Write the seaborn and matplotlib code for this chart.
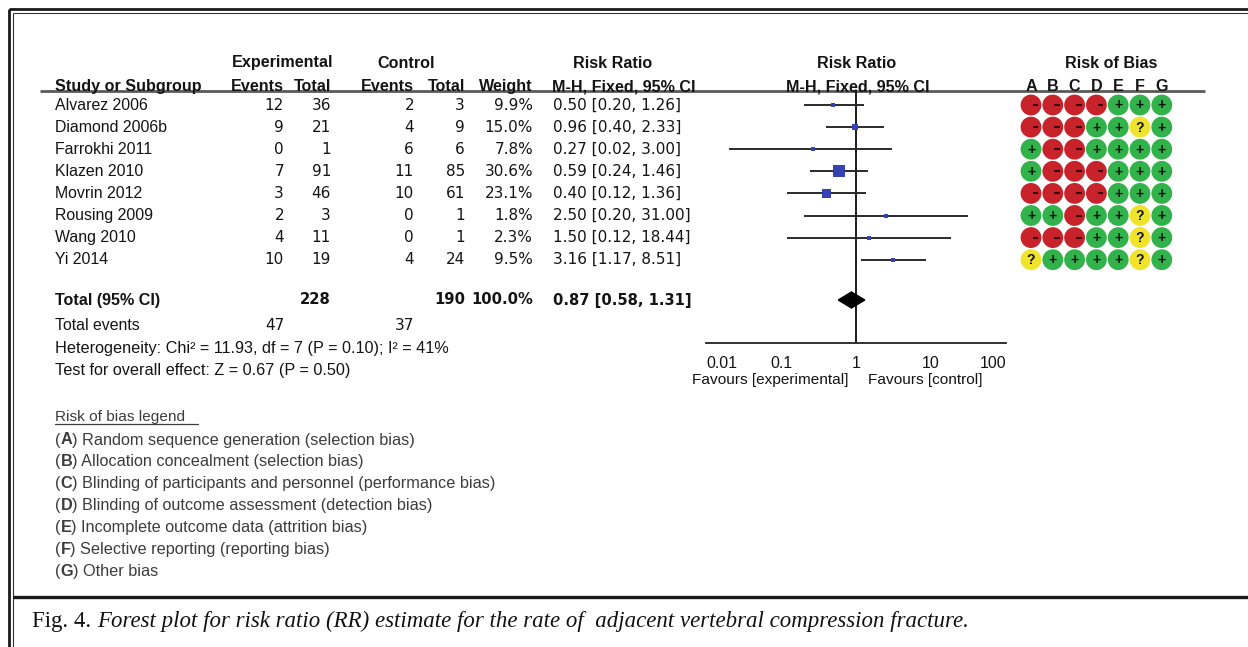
import matplotlib
matplotlib.use("Agg")
import matplotlib.pyplot as plt
import seaborn as sns
import pandas as pd

# ---------------- data ----------------
studies = ["Alvarez 2006", "Diamond 2006b", "Farrokhi 2011", "Klazen 2010",
           "Movrin 2012", "Rousing 2009", "Wang 2010", "Yi 2014"]
exp_events = [12, 9, 0, 7, 3, 2, 4, 10]
exp_total = [36, 21, 1, 91, 46, 3, 11, 19]
ctl_events = [2, 4, 6, 11, 10, 0, 0, 4]
ctl_total = [3, 9, 6, 85, 61, 1, 1, 24]
weights = [9.9, 15.0, 7.8, 30.6, 23.1, 1.8, 2.3, 9.5]
rr = [0.50, 0.96, 0.27, 0.59, 0.40, 2.50, 1.50, 3.16]
ci_low = [0.20, 0.40, 0.02, 0.24, 0.12, 0.20, 0.12, 1.17]
ci_high = [1.26, 2.33, 3.00, 1.46, 1.36, 31.00, 18.44, 8.51]
rr_labels = ["0.50 [0.20, 1.26]", "0.96 [0.40, 2.33]", "0.27 [0.02, 3.00]",
             "0.59 [0.24, 1.46]", "0.40 [0.12, 1.36]", "2.50 [0.20, 31.00]",
             "1.50 [0.12, 18.44]", "3.16 [1.17, 8.51]"]
total_exp, total_ctl = 228, 190
total_events_exp, total_events_ctl = 47, 37
total_rr, total_low, total_high = 0.87, 0.58, 1.31
total_label = "0.87 [0.58, 1.31]"
heterogeneity = "Heterogeneity: Chi\u00b2 = 11.93, df = 7 (P = 0.10); I\u00b2 = 41%"
overall = "Test for overall effect: Z = 0.67 (P = 0.50)"
axis_ticks = [0.01, 0.1, 1, 10, 100]
axis_labels = ["0.01", "0.1", "1", "10", "100"]
bias_domains = ["A", "B", "C", "D", "E", "F", "G"]
bias = ["----+++", "---++?+", "+--++++", "+---+++",
        "----+++", "++-++?+", "---++?+", "?++++?+"]
legend_letters = ["A", "B", "C", "D", "E", "F", "G"]
legend_texts = ["Random sequence generation (selection bias)",
                "Allocation concealment (selection bias)",
                "Blinding of participants and personnel (performance bias)",
                "Blinding of outcome assessment (detection bias)",
                "Incomplete outcome data (attrition bias)",
                "Selective reporting (reporting bias)",
                "Other bias"]
caption_head = "Fig. 4. "
caption_body = "Forest plot for risk ratio (RR) estimate for the rate of  adjacent vertebral compression fracture."

# ---------------- style ----------------
sns.set_style("white")
plt.rcParams['font.family'] = ['Liberation Sans', 'DejaVu Sans']
W, H = 1248, 647
fig = plt.figure(figsize=(W / 100, H / 100), dpi=100)
ax = fig.add_axes([0, 0, 1, 1])
ax.set_xlim(0, W)
ax.set_ylim(H, 0)
ax.axis('off')

TXT = '#141414'
FS = 11.4
FSB = 11.6
NUMF = ['DejaVu Sans']
row0, dy = 105, 22.1
ys = [row0 + i * dy for i in range(len(studies))]

# frame
ax.plot([9, 9], [9, H], color='#1a1a1a', lw=2.0, solid_capstyle='butt')
ax.plot([13, 13], [13, H], color='#333', lw=0.8, solid_capstyle='butt')
ax.plot([9, W], [9, 9], color='#1a1a1a', lw=2.0, solid_capstyle='butt')
ax.plot([13, W], [13, 13], color='#333', lw=0.8, solid_capstyle='butt')
ax.plot([13, W], [597, 597], color='#1a1a1a', lw=2.4, solid_capstyle='butt')

# headers
hb = dict(fontsize=FSB, fontweight='bold', color=TXT, va='center')
ax.text(283, 63, "Experimental", ha='center', **hb)
ax.text(406, 63, "Control", ha='center', **hb)
ax.text(613, 63, "Risk Ratio", ha='center', **hb)
ax.text(857, 63, "Risk Ratio", ha='center', **hb)
ax.text(1111, 63, "Risk of Bias", ha='center', **hb)
ax.text(55, 86.5, "Study or Subgroup", ha='left', **hb)
ax.text(284, 86.5, "Events", ha='right', **hb)
ax.text(331, 86.5, "Total", ha='right', **hb)
ax.text(414, 86.5, "Events", ha='right', **hb)
ax.text(465, 86.5, "Total", ha='right', **hb)
ax.text(533, 86.5, "Weight", ha='right', **hb)
ax.text(624, 86.5, "M-H, Fixed, 95% CI", ha='center', **hb)
ax.text(858, 86.5, "M-H, Fixed, 95% CI", ha='center', **hb)
col_x = [1031 + 21.8 * j for j in range(len(bias_domains))]
for x, d in zip(col_x, bias_domains):
    ax.text(x, 86.5, d, ha='center', **hb)
ax.plot([40, 1205], [91, 91], color='#5a5a5a', lw=2.0, solid_capstyle='butt')

# study rows
tr = dict(fontsize=FS, color=TXT, va='center')
tn = dict(fontsize=FS - 0.4, color=TXT, va='center', family=NUMF)
for i, y in enumerate(ys):
    ax.text(55, y, studies[i], ha='left', **tr)
    ax.text(284, y, str(exp_events[i]), ha='right', **tn)
    ax.text(331, y, str(exp_total[i]), ha='right', **tn)
    ax.text(414, y, str(ctl_events[i]), ha='right', **tn)
    ax.text(465, y, str(ctl_total[i]), ha='right', **tn)
    ax.text(533, y, f"{weights[i]:.1f}%", ha='right', **tn)
    ax.text(553, y, rr_labels[i], ha='left', **tn)

# totals
yt = 300
tnb = dict(tn, fontweight='bold', fontsize=FS - 0.8)
ax.text(55, yt, "Total (95% CI)", ha='left', **hb)
ax.text(331, yt, str(total_exp), ha='right', **tnb)
ax.text(465, yt, str(total_ctl), ha='right', **tnb)
ax.text(533, yt, "100.0%", ha='right', **tnb)
ax.text(553, yt, total_label, ha='left', **tnb)
ax.text(55, 326, "Total events", ha='left', **tr)
ax.text(284, 326, str(total_events_exp), ha='right', **tn)
ax.text(414, 326, str(total_events_ctl), ha='right', **tn)
ax.text(55, 349, heterogeneity, ha='left', fontsize=FS + 0.3, color=TXT, va='center')
ax.text(55, 371, overall, ha='left', fontsize=FS + 0.3, color=TXT, va='center')

# legend
LC = '#3c3c3c'
LFS = 11.7
ax.text(55, 417, "Risk of bias legend", ha='left', va='center', fontsize=LFS - 0.6, color=LC)
ax.plot([55, 198], [424, 424], color=LC, lw=0.9)
for k, (L, t) in enumerate(zip(legend_letters, legend_texts)):
    y = 440 + k * 21.9
    a = ax.text(55, y, "(", ha='left', va='center', fontsize=LFS, color=LC)
    b = ax.annotate(L, xy=(1, 0), xycoords=a, va='bottom', ha='left',
                    fontsize=LFS, color=LC, fontweight='bold')
    ax.annotate(") " + t, xy=(1, 0), xycoords=b, va='bottom', ha='left',
                fontsize=LFS, color=LC)

# forest plot axes
x0, x1, ytop, ybot = 706, 1006, 91, 343
axf = fig.add_axes([x0 / W, (H - ybot) / H, (x1 - x0) / W, (ybot - ytop) / H])
axf.set_facecolor('none')
axf.set_xscale('log')
axf.set_xlim(axis_ticks[0], axis_ticks[-1])
axf.set_ylim(ybot, ytop)
for s in ['top', 'left', 'right']:
    axf.spines[s].set_visible(False)
axf.spines['bottom'].set_color('#222')
axf.spines['bottom'].set_linewidth(1.3)
axf.set_xticks(axis_ticks)
axf.set_xticklabels(axis_labels)
axf.minorticks_off()
axf.set_yticks([])
axf.tick_params(axis='x', direction='inout', length=12, width=1.3, color='#222',
                labelsize=FS, labelcolor=TXT, pad=3)
labs = axf.get_xticklabels()
labs[0].set_ha('left')
labs[-1].set_ha('right')
axf.axvline(1, color='#1a1a1a', lw=1.4)

df = pd.DataFrame({"rr": rr, "y": ys, "lo": ci_low, "hi": ci_high, "w": weights})
axf.hlines(df["y"], df["lo"], df["hi"], color='#2a2a2a', lw=1.4)
sizes = [(max(4.0, 0.4 * w) * 0.72) ** 2 for w in weights]
sns.scatterplot(data=df, x="rr", y="y", marker='s', s=sizes, color='#3442b4',
                linewidth=0, ax=axf, legend=False, zorder=3)
axf.fill([total_low, total_rr, total_high, total_rr], [yt, yt - 8, yt, yt + 8],
         color='black', zorder=3)
axf.set_xlabel("")
axf.set_ylabel("")

ax.text(770, 380, "Favours [experimental]", ha='center', va='center', fontsize=FS - 0.3, color=TXT)
ax.text(925, 380, "Favours [control]", ha='center', va='center', fontsize=FS - 0.3, color=TXT)

# risk of bias circles
recs = []
for i, row in enumerate(bias):
    for j, c in enumerate(row):
        recs.append({"x": col_x[j], "y": ys[i], "j": c})
rob = pd.DataFrame(recs)
pal = {"-": "#c8232b", "+": "#31b24a", "?": "#f0e32c"}
sns.scatterplot(data=rob, x="x", y="y", hue="j", palette=pal, s=225,
                edgecolor='none', linewidth=0, ax=ax, legend=False, zorder=3)
ax.set_xlim(0, W)
ax.set_ylim(H, 0)
for _, r in rob.iterrows():
    if r["j"] == "-":
        ax.plot([r["x"] + 1.5, r["x"] + 7], [r["y"], r["y"]], color='#3a0a0a', lw=1.5,
                zorder=4, solid_capstyle='butt')
    else:
        ax.text(r["x"], r["y"] + 0.5, r["j"], ha='center', va='center', fontsize=10,
                fontweight='bold', color='#111', zorder=4)

# caption
CFS = 16.5
cap = ax.text(32, 621, caption_head, ha='left', va='center', fontsize=CFS,
              family=['Liberation Serif'], color='#111')
ax.annotate(caption_body, xy=(1, 0), xycoords=cap, ha='left', va='bottom',
            fontsize=CFS, family=['Liberation Serif'], style='italic', color='#111')

fig.savefig("out.png", dpi=100)
